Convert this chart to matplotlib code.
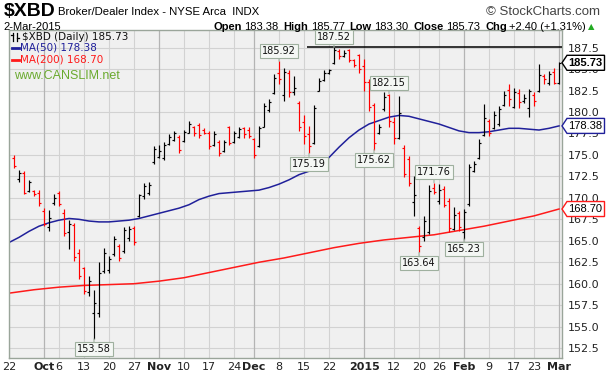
import numpy as np
import pandas as pd
import matplotlib.pyplot as plt
from matplotlib.lines import Line2D
from matplotlib.patches import Polygon
from matplotlib.transforms import IdentityTransform

# trading days shown on the chart (Sep 22 2014 is index 0, Mar 2 2015 is index 110)
holidays = ['2014-11-27', '2014-12-25', '2015-01-01', '2015-01-19', '2015-02-16']
days = pd.bdate_range('2014-09-22', '2015-03-02')
days = days[~days.isin(pd.to_datetime(holidays))]

# daily OHLC for index 1..110
opens = [174.6, 172.2, 172.9, 170.8, 170.8, 170.6, 168.5, 166.6, 169.4, 170.6,
         168.2, 166.0, 166.8, 163.6, 161.8, 159.0, 156.6, 156.6, 161.5, 161.6,
         163.5, 164.4, 163.8, 165.3, 166.5, 167.9, 170.2, 170.6, 174.2, 174.8,
         174.6, 176.3, 176.7, 177.1, 176.6, 177.6, 178.3, 178.5, 177.9, 177.6,
         176.1, 176.5, 175.5, 178.2, 176.5, 177.1, 178.1, 177.9, 176.8, 176.0,
         178.3, 180.2, 182.2, 184.5, 182.0, 184.6, 182.3, 181.0, 178.8, 177.4,
         176.4, 182.5, 183.7, 184.5, 185.7, 187.1, 186.5, 187.2, 186.0, 186.6,
         185.4, 183.5, 180.8, 177.5, 180.3, 182.0, 178.8, 177.0, 175.8, 174.5,
         169.5, 166.5, 165.5, 166.0, 171.2, 169.6, 171.0, 169.6, 166.4, 168.2,
         166.0, 169.3, 173.1, 174.6, 177.3, 179.0, 178.1, 178.6, 180.8, 182.6,
         180.6, 182.2, 181.3, 180.5, 182.0, 182.4, 184.2, 183.4, 184.7, 183.38]
highs = [175.0, 173.2, 173.1, 172.1, 170.9, 170.9, 168.8, 168.6, 170.4, 170.8,
         168.7, 167.4, 167.1, 164.1, 162.0, 160.9, 159.3, 162.5, 164.2, 163.2,
         165.6, 164.6, 166.6, 166.7, 166.7, 170.5, 171.7, 171.9, 176.0, 176.2,
         176.5, 177.4, 177.8, 177.3, 177.9, 179.0, 178.4, 178.7, 178.1, 177.8,
         177.8, 176.7, 176.7, 178.4, 177.8, 178.3, 178.3, 178.2, 177.0, 178.4,
         181.1, 181.5, 184.4, 185.92, 185.1, 184.9, 184.2, 181.3, 179.6, 178.4,
         180.8, 184.0, 184.9, 185.0, 187.52, 187.3, 187.2, 187.3, 186.2, 186.8,
         186.2, 183.8, 181.1, 178.6, 182.3, 182.15, 179.4, 181.9, 176.1, 174.9,
         172.6, 166.7, 167.9, 171.5, 171.76, 171.6, 171.4, 170.0, 168.9, 168.5,
         168.7, 173.9, 174.3, 176.8, 180.9, 179.2, 180.1, 180.7, 182.5, 183.3,
         182.8, 182.7, 182.1, 182.7, 182.3, 185.6, 184.4, 184.8, 185.1, 185.77]
lows = [173.5, 171.9, 170.4, 170.7, 170.2, 169.1, 166.7, 166.1, 169.2, 169.1,
        165.6, 164.1, 162.7, 160.6, 158.8, 158.6, 153.58, 156.1, 161.3, 161.3,
        163.2, 162.7, 163.6, 165.0, 164.5, 167.8, 169.9, 170.3, 174.0, 174.7,
        174.4, 176.2, 176.6, 175.2, 176.5, 177.5, 177.2, 177.0, 177.4, 175.7,
        176.0, 174.9, 175.3, 176.1, 176.4, 177.0, 177.0, 177.0, 174.6, 175.9,
        178.2, 180.0, 182.1, 183.3, 181.3, 181.7, 182.0, 177.8, 176.3, 175.19,
        176.3, 182.4, 183.6, 184.4, 185.6, 186.2, 186.4, 185.8, 185.2, 184.6,
        182.5, 180.1, 175.62, 177.4, 180.1, 178.2, 176.3, 176.9, 172.4, 171.4,
        167.9, 163.64, 165.0, 165.8, 170.4, 169.3, 168.9, 166.0, 166.3, 166.1,
        165.23, 169.1, 173.0, 174.5, 177.2, 177.2, 178.0, 178.4, 180.7, 180.7,
        180.5, 180.5, 181.1, 179.4, 180.7, 182.3, 183.3, 183.1, 183.3, 183.30]
closes = [173.7, 172.9, 170.6, 171.8, 170.4, 169.4, 167.0, 167.7, 170.0, 169.3,
          165.9, 167.0, 163.1, 160.9, 159.1, 160.3, 157.8, 161.2, 163.6, 162.9,
          165.2, 163.0, 166.2, 166.4, 164.9, 170.3, 171.4, 171.5, 175.7, 175.4,
          176.1, 177.1, 177.5, 175.6, 177.7, 178.6, 177.5, 177.3, 177.6, 176.0,
          177.4, 175.2, 176.5, 176.4, 177.5, 178.0, 177.4, 177.2, 175.0, 178.1,
          180.7, 181.2, 184.0, 183.8, 184.7, 182.3, 182.8, 178.2, 177.2, 176.0,
          180.5, 183.6, 184.6, 184.9, 187.2, 186.5, 186.9, 186.1, 185.5, 185.0,
          183.5, 180.6, 176.4, 178.2, 181.8, 178.9, 177.0, 179.9, 172.8, 171.7,
          170.3, 164.4, 167.3, 170.8, 170.7, 170.9, 169.2, 166.5, 168.0, 166.6,
          168.4, 173.6, 174.0, 176.4, 179.3, 177.6, 179.6, 180.4, 182.0, 181.5,
          182.3, 181.2, 181.6, 182.4, 181.3, 184.3, 183.8, 184.4, 183.33, 185.73]

# moving averages read at sample days
ma50_idx = [0, 2, 4, 6, 8, 10, 12, 14, 16, 18, 20, 22, 24, 26, 28, 30, 32, 34, 36, 38,
            40, 42, 44, 46, 48, 50, 52, 54, 56, 58, 60, 62, 64, 66, 68, 70, 72, 74, 76, 78,
            80, 82, 84, 86, 88, 90, 92, 94, 96, 98, 100, 102, 104, 106, 108, 110]
ma50_val = [164.8, 165.4, 166.1, 166.7, 167.1, 167.4, 167.6, 167.5, 167.3, 167.2,
            167.2, 167.3, 167.4, 167.6, 167.9, 168.2, 168.5, 168.8, 169.2, 169.8,
            170.2, 170.5, 170.6, 170.7, 170.8, 170.9, 171.2, 171.6, 172.1, 172.7,
            173.1, 173.7, 174.7, 175.9, 177.0, 177.9, 178.6, 179.0, 179.4, 179.6,
            179.5, 179.2, 178.9, 178.6, 178.2, 177.8, 177.6, 177.6, 177.7, 177.9,
            178.1, 178.1, 178.0, 177.9, 178.1, 178.38]
ma200_idx = [0, 5, 10, 15, 20, 25, 30, 35, 40, 45, 50, 55, 60, 65, 70, 75, 80, 85,
             90, 95, 100, 105, 110]
ma200_val = [158.9, 159.3, 159.6, 159.8, 159.9, 160.0, 160.3, 160.7, 161.3, 161.9,
             162.5, 163.0, 163.6, 164.2, 164.7, 165.1, 165.4, 165.7, 166.2, 166.7,
             167.3, 167.9, 168.70]

# x-axis labels: (date, label, month start?)
xlabels = [('2014-09-22', '22', False), ('2014-10-01', 'Oct', True), ('2014-10-06', '6', False),
           ('2014-10-13', '13', False), ('2014-10-20', '20', False), ('2014-10-27', '27', False),
           ('2014-11-03', 'Nov', True), ('2014-11-10', '10', False), ('2014-11-17', '17', False),
           ('2014-11-24', '24', False), ('2014-12-01', 'Dec', True), ('2014-12-08', '8', False),
           ('2014-12-15', '15', False), ('2014-12-22', '22', False), ('2015-01-02', '2015', True),
           ('2015-01-12', '12', False), ('2015-01-20', '20', False), ('2015-01-26', '26', False),
           ('2015-02-02', 'Feb', True), ('2015-02-09', '9', False), ('2015-02-17', '17', False),
           ('2015-02-23', '23', False), ('2015-03-02', 'Mar', True)]

# labelled swing points: (day index, text, above?)
swings = [(17, '153.58', False), (54, '185.92', True), (60, '175.19', False),
          (65, '187.52', True), (73, '175.62', False), (76, '182.15', True),
          (82, '163.64', False), (85, '171.76', True), (91, '165.23', False)]

head = 'Liberation Sans'


def fx(px):
    return px / 606


def fy(py):
    return 1 - py / 376


fig = plt.figure(figsize=(6.06, 3.76), dpi=100)
ax = fig.add_axes([fx(9), 18 / 376, 553 / 606, 328 / 376])
ax.set_facecolor('#f0f0f0')
ax.set_xlim(0, 110.6)
ax.set_ylim(151.35, 189.55)

# grid
yt = np.arange(152.5, 188, 2.5)
ax.set_yticks(yt)
ax.set_yticklabels(['%.1f' % v for v in yt])
ax.yaxis.tick_right()
ax.tick_params(axis='y', length=0, pad=4, labelsize=8, labelcolor='#222222')
for v in yt:
    ax.axhline(v, color='#d2d2d2', lw=0.8, zorder=0)

pos = [days.get_loc(pd.Timestamp(d)) for d, _, _ in xlabels]
ax.set_xticks(pos)
ax.set_xticklabels([l for _, l, _ in xlabels])
ax.tick_params(axis='x', length=0, pad=3, labelsize=8, labelcolor='#222222')
for tl, (_, _, m) in zip(ax.get_xticklabels(), xlabels):
    if m:
        tl.set_fontweight('bold')
for p, (_, _, m) in zip(pos, xlabels):
    ax.axvline(p, color='#b4b4b4' if m else '#d2d2d2', lw=0.9 if m else 0.8, zorder=0)

for s in ax.spines.values():
    s.set_color('#9aa59a')
    s.set_linewidth(1)

# moving averages
ax.plot(ma200_idx, ma200_val, color='#ff1a1a', lw=1.1, zorder=2)
ax.plot(ma50_idx, ma50_val, color='#20209a', lw=1.1, zorder=2)

# OHLC bars
x = np.arange(1, 111)
o = np.array(opens)
c = np.array(closes)
cols = np.where(c >= o, 'black', '#ff0000')
ax.vlines(x, lows, highs, colors=cols, lw=0.85, zorder=3)
ax.hlines(o, x - 0.45, x, colors=cols, lw=0.85, zorder=3)
ax.hlines(c, x, x + 0.45, colors=cols, lw=0.85, zorder=3)

# resistance line at the high
ax.hlines(187.52, 59.5, 110.6, color='black', lw=1.1, zorder=3)

# swing labels
for i, txt, above in swings:
    yv = highs[i - 1] if above else lows[i - 1]
    ax.annotate(txt, xy=(i, yv), xytext=(0, 4 if above else -4), textcoords='offset points',
                ha='center', va='bottom' if above else 'top', fontsize=7, color='#111111',
                bbox=dict(boxstyle='square,pad=0.2', fc='#f4f7f4', ec='#9fb09f', lw=0.8),
                arrowprops=dict(arrowstyle='-', color='#9fb09f', lw=0.8, shrinkA=0, shrinkB=0),
                zorder=5)

# right-side value tags (pointed boxes drawn in pixels)
xr = ax.transAxes.transform((1, 0))[0]
tags = [(closes[-1], '185.73', 'black', 'bold'), (ma50_val[-1], '178.38', '#20209a', 'normal'),
        (ma200_val[-1], '168.70', '#ff1a1a', 'normal')]
for v, txt, ec, w in tags:
    yp = ax.transData.transform((0, v))[1]
    verts = [(xr, yp), (xr + 5, yp + 7.5), (xr + 42.5, yp + 7.5), (xr + 42.5, yp - 7.5),
             (xr + 5, yp - 7.5)]
    fig.add_artist(Polygon(verts, closed=True, fc='white', ec=ec, lw=1,
                           transform=IdentityTransform(), zorder=6))
    fig.text(xr + 6, yp, txt, transform=IdentityTransform(), fontsize=8, fontweight=w,
             family=head, va='center', ha='left', color='black', zorder=7)

# legend block inside the chart
fig.text(fx(22), fy(37), '$XBD (Daily) 185.73', fontsize=7.5, va='center', color='#111111')
fig.add_artist(Line2D([fx(13), fx(13)], [fy(33), fy(41)], color='black', lw=0.9))
fig.add_artist(Line2D([fx(17), fx(17)], [fy(33), fy(41)], color='black', lw=0.9))
fig.add_artist(Line2D([fx(11), fx(13)], [fy(35), fy(35)], color='black', lw=0.9))
fig.add_artist(Line2D([fx(17), fx(19)], [fy(38), fy(38)], color='black', lw=0.9))
fig.add_artist(Line2D([fx(12), fx(19)], [fy(48), fy(48)], color='#20209a', lw=2))
fig.text(fx(20), fy(48), 'MA(50) 178.38', fontsize=7.5, va='center', color='#20209a')
fig.add_artist(Line2D([fx(12), fx(19)], [fy(60), fy(60)], color='#ff1a1a', lw=2))
fig.text(fx(20), fy(60), 'MA(200) 168.70', fontsize=7.5, va='center', color='#ff1a1a')
fig.text(fx(14), fy(76), 'www.CANSLIM.net', fontsize=9, family=head, va='center',
         color='#6aaa2e')

# header
fig.text(fx(4), fy(12), '$XBD', fontsize=14, fontweight='bold', family=head, va='center')
fig.text(fx(58), fy(12), 'Broker/Dealer Index - NYSE Arca  INDX', fontsize=8.2, family=head,
         va='center')
fig.text(fx(600), fy(12), '\u00a9 StockCharts.com', fontsize=9.5, family=head, va='center',
         ha='right', color='#444444')
fig.text(fx(3), fy(27), '2-Mar-2015', fontsize=8, family=head, va='center')

r = fig.canvas.get_renderer()
parts = [('Open', 'bold', 2.5), ('183.38', 'normal', 5), ('High', 'bold', 2.5),
         ('185.77', 'normal', 5), ('Low', 'bold', 2.5), ('183.30', 'normal', 5),
         ('Close', 'bold', 2.5), ('185.73', 'normal', 5), ('Chg', 'bold', 2.5),
         ('+2.40 (+1.31%)', 'normal', 2)]
xp = 213
for t, w, gap in parts:
    tt = fig.text(fx(xp), fy(27), t, fontsize=8, family=head, fontweight=w, va='center')
    xp = tt.get_window_extent(r).x1 + gap
fig.text(fx(xp), fy(27), '\u25b2', fontsize=6, color='#22aa22', va='center')

fig.savefig('out.png', dpi=100, facecolor='white')
